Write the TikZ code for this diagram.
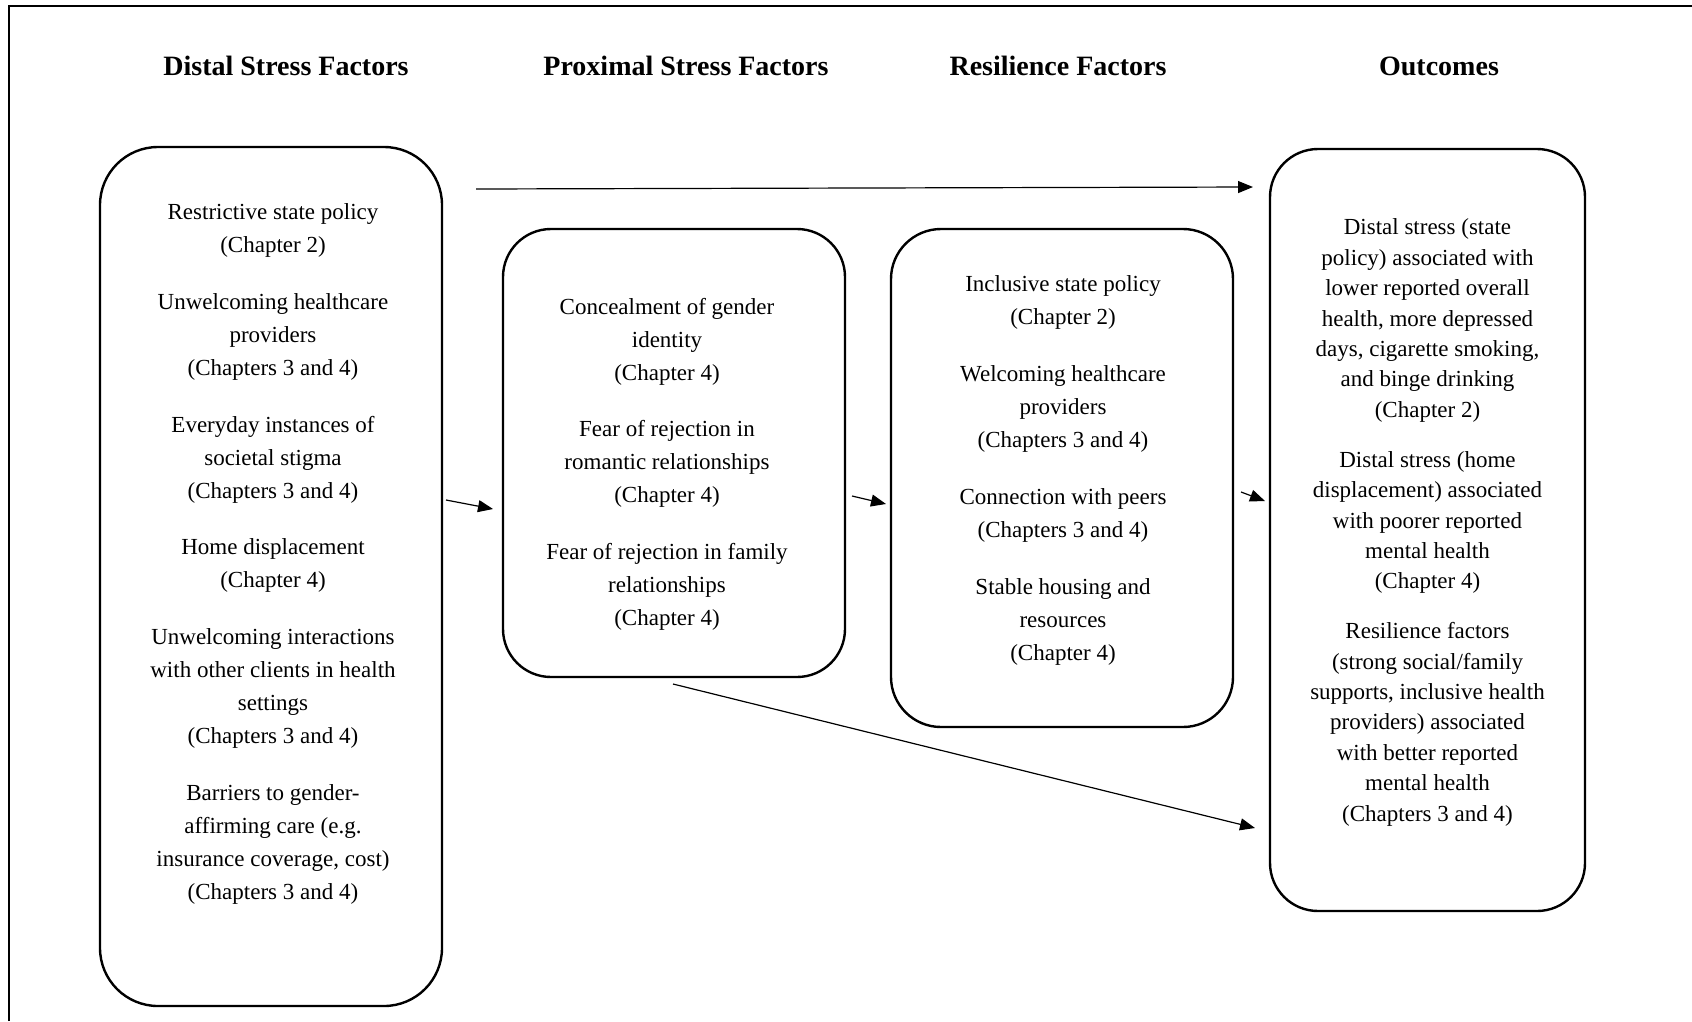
\documentclass[tikz,border=0pt]{standalone}
\usepackage{fontspec}
\setmainfont{Liberation Serif}
\usetikzlibrary{arrows.meta}
\tikzset{
  box/.style={draw, line width=2.4pt, rectangle, inner sep=0pt},
  body/.style={align=center, inner sep=0pt, font=\fontsize{23}{33}\selectfont},
  outbody/.style={align=center, inner sep=0pt, font=\fontsize{23}{30.4}\selectfont},
  head/.style={inner sep=0pt, font=\fontsize{28}{33}\selectfont\bfseries},
  conn/.style={line width=1.2pt, -{Triangle[length=15pt,width=12pt]}},
}
\begin{document}
\begin{tikzpicture}[x=1pt,y=-1pt]
\useasboundingbox (0,0) rectangle (1692,1021);
% frame
\coordinate (fa) at (9,1021);
\coordinate (fb) at (9,6);
\coordinate (fc) at (1692,6);
\draw[line width=2.8pt] (fa) -- (fb) -- (fc);

% headers
\node[head] (h1) at (286,66) {Distal Stress Factors};
\node[head] (h2) at (686,66) {Proximal Stress Factors};
\node[head] (h3) at (1058,66) {Resilience Factors};
\node[head] (h4) at (1439,66) {Outcomes};

% boxes
\node[box, rounded corners=58pt, minimum width=342pt, minimum height=859pt] (distal) at (271,576.5) {};
\node[box, rounded corners=48pt, minimum width=342pt, minimum height=448pt] (prox) at (674,453) {};
\node[box, rounded corners=50pt, minimum width=342pt, minimum height=498pt] (res) at (1062,478) {};
\node[box, rounded corners=48pt, minimum width=315pt, minimum height=762pt] (out) at (1427.5,530) {};

% texts
\node[body] (dt) at (273,554) {Restrictive state policy\\(Chapter 2)\\[23.7pt]
Unwelcoming healthcare\\providers\\(Chapters 3 and 4)\\[23.7pt]
Everyday instances of\\societal stigma\\(Chapters 3 and 4)\\[23.7pt]
Home displacement\\(Chapter 4)\\[23.7pt]
Unwelcoming interactions\\with other clients in health\\settings\\(Chapters 3 and 4)\\[23.7pt]
Barriers to gender-\\affirming care (e.g.\\insurance coverage, cost)\\(Chapters 3 and 4)};

\node[body] (pt) at (667,464) {Concealment of gender\\identity\\(Chapter 4)\\[23.5pt]
Fear of rejection in\\romantic relationships\\(Chapter 4)\\[23.5pt]
Fear of rejection in family\\relationships\\(Chapter 4)};

\node[body] (rt) at (1063,470) {Inclusive state policy\\(Chapter 2)\\[24pt]
Welcoming healthcare\\providers\\(Chapters 3 and 4)\\[24pt]
Connection with peers\\(Chapters 3 and 4)\\[24pt]
Stable housing and\\resources\\(Chapter 4)};

\node[outbody] (ot) at (1427.5,522.5) {Distal stress (state\\policy) associated with\\lower reported overall\\health, more depressed\\days, cigarette smoking,\\and binge drinking\\(Chapter 2)\\[19.5pt]
Distal stress (home\\displacement) associated\\with poorer reported\\mental health\\(Chapter 4)\\[19.5pt]
Resilience factors\\(strong social/family\\supports, inclusive health\\providers) associated\\with better reported\\mental health\\(Chapters 3 and 4)};

% connector end points
\coordinate (a1s) at (476,189);
\coordinate (a1e) at (1253,187);
\coordinate (a2s) at (446,500);
\coordinate (a2e) at (493,509);
\coordinate (a3s) at (852,496);
\coordinate (a3e) at (886,504);
\coordinate (a4s) at (1241,492);
\coordinate (a4e) at (1265,501);
\coordinate (a5s) at (673,684);
\coordinate (a5e) at (1255,828);

\draw[conn] (a1s) -- (a1e);
\draw[conn] (a2s) -- (a2e);
\draw[conn] (a3s) -- (a3e);
\draw[conn] (a4s) -- (a4e);
\draw[conn] (a5s) -- (a5e);
\end{tikzpicture}
\end{document}
